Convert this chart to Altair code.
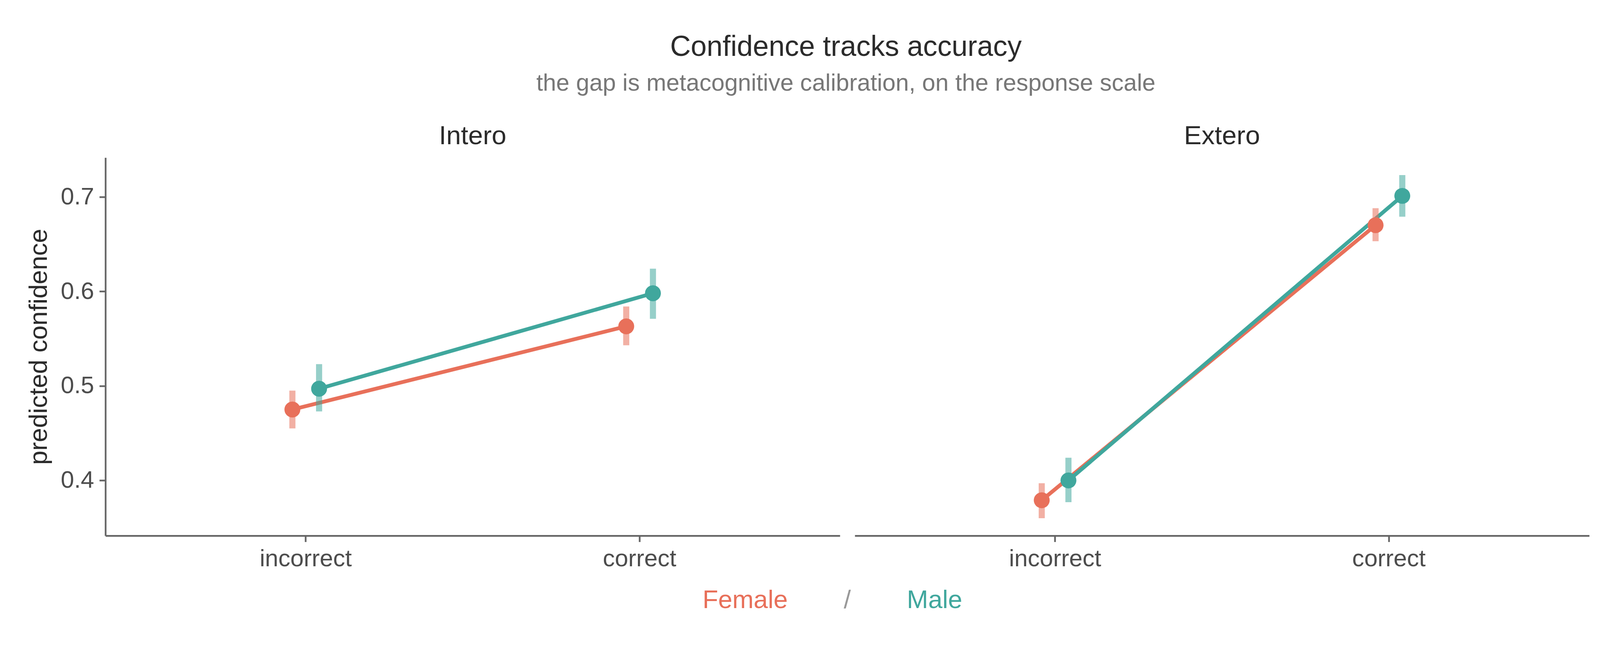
import altair as alt
import pandas as pd

# facet panels, x categories and groups
domains = ["Intero", "Extero"]
accuracy = ["incorrect", "correct"]
sexes = ["Female", "Male"]

# rows run domain -> accuracy -> sex
estimate = [0.475, 0.497, 0.563, 0.598, 0.379, 0.400, 0.670, 0.701]
lower = [0.455, 0.473, 0.543, 0.571, 0.360, 0.377, 0.653, 0.679]
upper = [0.495, 0.523, 0.584, 0.624, 0.397, 0.424, 0.688, 0.723]

legend_labels = ["Female", "/", "Male"]
legend_slot = [-1, 0, 1]

CORAL = "#E8705A"
TEAL = "#40A79D"
FONT = "Liberation Sans"

rows = [(d, a, s) for d in domains for a in accuracy for s in sexes]
df = pd.DataFrame(rows, columns=["domain", "accuracy", "sex"])
df["estimate"] = estimate
df["lower"] = lower
df["upper"] = upper

y_scale = alt.Scale(domain=[0.3415, 0.7415], nice=False, zero=False)

# narrow bands so the dodge between the sexes stays small
base = alt.Chart(df).encode(
    x=alt.X("accuracy:N", sort=accuracy,
            scale=alt.Scale(type="band", paddingInner=0.84, paddingOuter=0.52),
            axis=alt.Axis(title=None, labelAngle=0, labelLimit=1000)),
    xOffset=alt.XOffset("sex:N", sort=sexes,
                        scale=alt.Scale(paddingInner=0, paddingOuter=0)),
    color=alt.Color("sex:N", scale=alt.Scale(domain=sexes, range=[CORAL, TEAL]),
                    legend=None),
)

y_enc = alt.Y("estimate:Q", scale=y_scale,
              axis=alt.Axis(values=[0.4, 0.5, 0.6, 0.7], format=".1f",
                            title="predicted confidence", titlePadding=22))

lines = base.mark_line(strokeWidth=10).encode(y=y_enc)
bars = base.mark_rule(strokeWidth=16, opacity=0.55).encode(
    y=alt.Y("lower:Q", scale=y_scale), y2="upper:Q")
points = base.mark_circle(size=1735, opacity=1).encode(y=y_enc)

panels = alt.layer(lines, bars, points).properties(width=1924, height=990)

facet = panels.facet(
    column=alt.Column("domain:N", sort=domains,
                      header=alt.Header(title=None, labelFontSize=69, labelFont=FONT,
                                        labelColor="#2b2b2b", labelPadding=21)),
    spacing=39,
)

# colored text legend under the panels
leg_df = pd.DataFrame({"label": legend_labels, "slot": legend_slot})
leg = alt.Chart(leg_df).encode(
    x=alt.X("slot:Q", scale=alt.Scale(domain=[-12.46, 12.46], nice=False, zero=False),
            axis=None),
    text="label:N",
)
leg_f = leg.transform_filter(alt.datum.label == "Female").mark_text(
    align="right", baseline="middle", fontSize=67, font=FONT, color=CORAL)
leg_s = leg.transform_filter(alt.datum.label == "/").mark_text(
    align="center", baseline="middle", fontSize=67, font=FONT, color="#999999")
leg_m = leg.transform_filter(alt.datum.label == "Male").mark_text(
    align="left", baseline="middle", fontSize=67, font=FONT, color=TEAL)
legend = alt.layer(leg_f, leg_s, leg_m).properties(width=3887, height=60)

chart = alt.vconcat(facet, legend, spacing=43).properties(
    title=alt.Title("Confidence tracks accuracy",
                    subtitle="the gap is metacognitive calibration, on the response scale",
                    fontSize=75, font=FONT, fontWeight="normal", color="#2b2b2b",
                    subtitleFontSize=62.5, subtitleFont=FONT, subtitleColor="#777777",
                    subtitlePadding=26, anchor="middle", offset=72, dx=100),
    padding={"left": 60, "top": 59, "right": 20, "bottom": 10},
).configure_view(
    stroke=None
).configure_axis(
    domainColor="#666666", domainWidth=4.5, tickColor="#666666", tickWidth=4.5,
    tickSize=16, labelFontSize=63, labelColor="#4d4d4d", labelFont=FONT,
    titleFont=FONT, titleFontSize=67, titleFontWeight="normal", titleColor="#2b2b2b",
    grid=False, labelPadding=14,
)

chart.save("out.html", embed_options={"renderer": "svg", "actions": False})
